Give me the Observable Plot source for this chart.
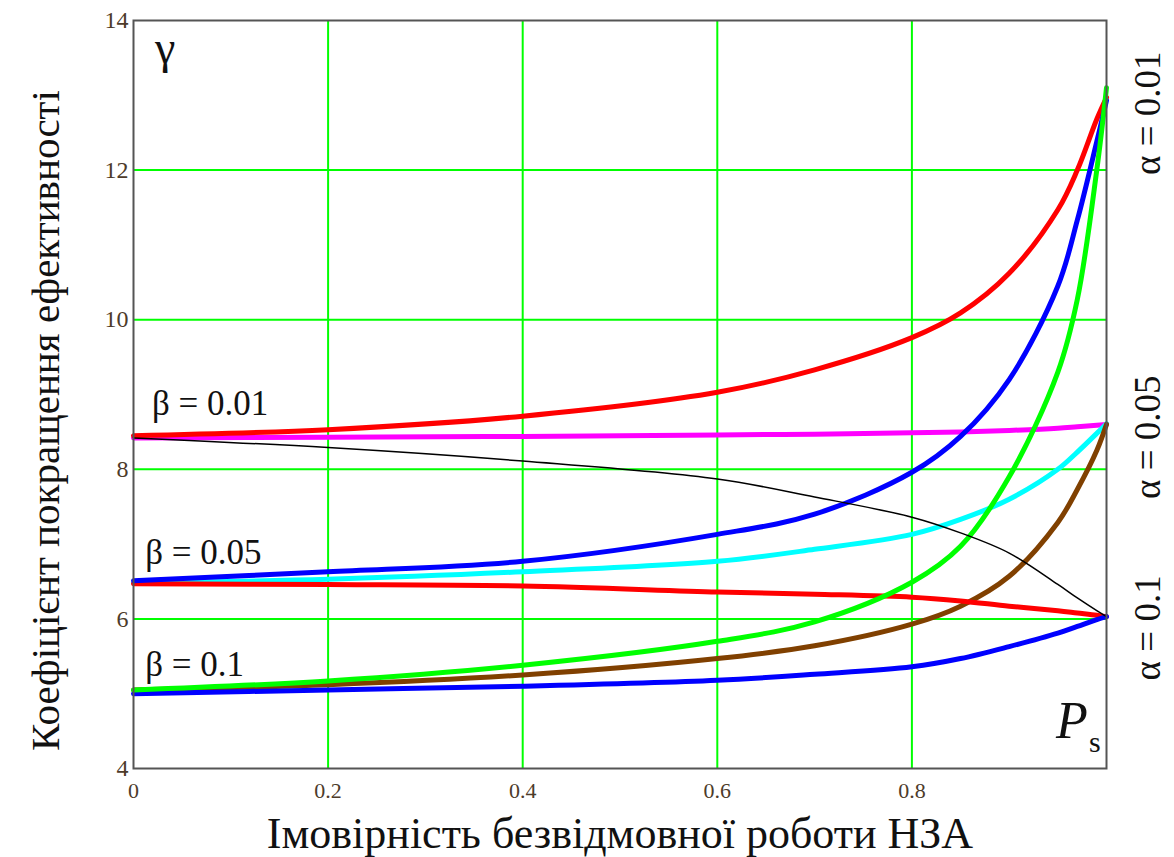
<!DOCTYPE html>
<html>
<head>
<meta charset="utf-8">
<script src="https://cdn.jsdelivr.net/npm/d3@7"></script>
<script src="https://cdn.jsdelivr.net/npm/@observablehq/plot@0.6"></script>
<style>
  html, body { margin: 0; padding: 0; background: #fff; }
  #chart svg { display: block; }
</style>
</head>
<body>
<div id="chart"></div>
<script>
// Probability of failure-free operation (x)
const P = [0, 0.2, 0.4, 0.6, 0.7, 0.8, 0.85, 0.9, 0.95, 0.97, 0.99, 1.0];

// gamma values, beta = 0.01
const b001_a001 = [8.45, 8.53, 8.71, 9.03, 9.33, 9.76, 10.09, 10.62, 11.47, 12.0, 12.68, 12.97];
const b001_a005 = [8.42, 8.43, 8.44, 8.46, 8.47, 8.49, 8.50, 8.52, 8.55, 8.57, 8.59, 8.60];
const b001_a01  = [8.42, 8.29, 8.11, 7.87, 7.63, 7.36, 7.15, 6.88, 6.46, 6.28, 6.11, 6.03];
// beta = 0.05
const b005_a001 = [6.51, 6.63, 6.77, 7.13, 7.40, 7.96, 8.44, 9.20, 10.45, 11.33, 12.38, 12.93];
const b005_a005 = [6.48, 6.53, 6.63, 6.77, 6.93, 7.13, 7.33, 7.60, 8.00, 8.23, 8.48, 8.61];
const b005_a01  = [6.47, 6.46, 6.44, 6.36, 6.33, 6.29, 6.24, 6.17, 6.11, 6.08, 6.05, 6.03];
// beta = 0.1
const b01_a001  = [5.05, 5.17, 5.38, 5.70, 5.96, 6.49, 6.97, 7.90, 9.30, 10.27, 12.0, 13.1];
const b01_a005  = [5.05, 5.12, 5.25, 5.47, 5.64, 5.93, 6.17, 6.57, 7.29, 7.73, 8.25, 8.60];
const b01_a01   = [5.00, 5.05, 5.10, 5.18, 5.26, 5.36, 5.47, 5.63, 5.81, 5.90, 5.99, 6.03];

const xTicks = [0, 0.2, 0.4, 0.6, 0.8];
const yTicks = [4, 6, 8, 10, 12, 14];
const xGrid = [0.2, 0.4, 0.6, 0.8];
const yGrid = [6, 8, 10, 12];

const xLabel = "Імовірність безвідмовної роботи НЗА";
const yLabel = "Коефіцієнт покращення ефективності";

// annotations (data coordinates)
const betaLabels = [
  {text: "β = 0.01", x: 0.019, y: 8.73},
  {text: "β = 0.05", x: 0.012, y: 6.73},
  {text: "β = 0.1",  x: 0.012, y: 5.23}
];
const alphaLabels = [
  {text: "α = 0.01", x: 1, y: 12.76},
  {text: "α = 0.05", x: 1, y: 8.43},
  {text: "α = 0.1",  x: 1, y: 5.88}
];
const gammaLabel = [{text: "γ", x: 0.022, y: 13.43}];
const pLabel = [{text: "P", x: 0.948, y: 4.41}];
const sLabel = [{text: "s", x: 0.982, y: 4.22}];

const serif = "'Liberation Serif', 'Times New Roman', serif";
const tickColor = "#4d3b2a";

const rows = (ys) => P.map((p, i) => ({p, g: ys[i]}));
const line = (ys, stroke, strokeWidth) =>
  Plot.line(rows(ys), {x: "p", y: "g", stroke, strokeWidth, curve: "catmull-rom", strokeLinejoin: "round"});

const chart = Plot.plot({
  width: 1174,
  height: 857,
  marginLeft: 133,
  marginRight: 68,
  marginTop: 20,
  marginBottom: 89,
  x: {domain: [0, 1], axis: null},
  y: {domain: [4, 14], axis: null},
  style: {fontFamily: serif, background: "#fff"},
  marks: [
    Plot.ruleX(xGrid, {stroke: "#00ff00", strokeWidth: 2}),
    Plot.ruleY(yGrid, {stroke: "#00ff00", strokeWidth: 2}),
    line(b001_a005, "#ff00ff", 5),
    line(b005_a005, "#00ffff", 5),
    line(b01_a005, "#804000", 5),
    line(b005_a01, "#ff0000", 5),
    line(b01_a01, "#0000ff", 5),
    line(b001_a001, "#ff0000", 5),
    line(b005_a001, "#0000ff", 5),
    line(b01_a001, "#00ff00", 5),
    line(b001_a01, "#000000", 1.5),
    Plot.frame({stroke: "#555", strokeWidth: 2}),
    // tick labels
    Plot.text(xTicks, {x: d => d, frameAnchor: "bottom", dy: 22, textAnchor: "middle", lineAnchor: "middle", text: d => String(d), fontSize: 22, fontFamily: serif, fill: tickColor}),
    Plot.text(yTicks, {y: d => d, frameAnchor: "left", dx: -5, textAnchor: "end", lineAnchor: "middle", text: d => String(d), fontSize: 24, fontFamily: serif, fill: tickColor}),
    Plot.text(betaLabels, {x: "x", y: "y", text: "text", textAnchor: "start", lineAnchor: "bottom", fontSize: 35, fontFamily: serif, fill: "#111"}),
    Plot.text(alphaLabels, {x: "x", y: "y", text: "text", rotate: -90, dx: 42, fontSize: 37, fontFamily: serif, fill: "#111"}),
    Plot.text(gammaLabel, {x: "x", y: "y", text: "text", textAnchor: "start", lineAnchor: "bottom", fontSize: 46, fontFamily: serif, fill: "#111"}),
    Plot.text(pLabel, {x: "x", y: "y", text: "text", textAnchor: "start", lineAnchor: "bottom", fontSize: 52, fontStyle: "italic", fontFamily: serif, fill: "#111"}),
    Plot.text(sLabel, {x: "x", y: "y", text: "text", textAnchor: "start", lineAnchor: "bottom", fontSize: 30, fontFamily: serif, fill: "#111"}),
    Plot.text([xLabel], {frameAnchor: "bottom", dy: 65, textAnchor: "middle", lineAnchor: "middle", text: d => d, fontSize: 44, fontFamily: serif, fill: "#111"}),
    Plot.text([yLabel], {frameAnchor: "left", dx: -88, dy: 26, textAnchor: "middle", lineAnchor: "middle", rotate: -90, text: d => d, fontSize: 41, fontFamily: serif, fill: "#111"})
  ]
});

document.getElementById("chart").appendChild(chart);
</script>
</body>
</html>
